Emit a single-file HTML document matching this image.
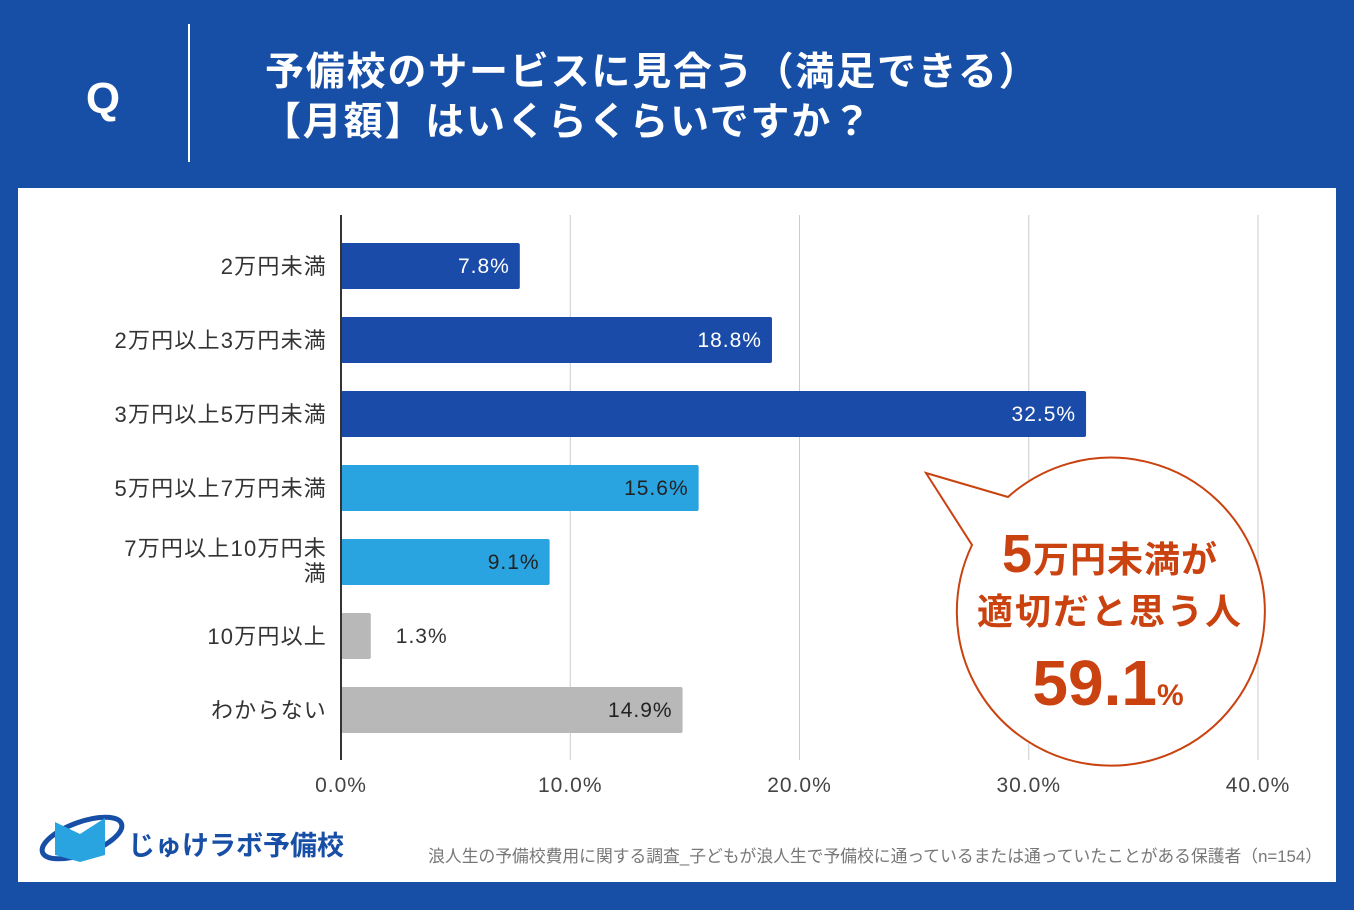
<!DOCTYPE html>
<html><head><meta charset="utf-8"><style>
body{margin:0;width:1354px;height:905px;background:#174ea6;overflow:hidden;font-family:"Liberation Sans","Noto Sans CJK JP",sans-serif}
</style></head><body>
<svg width="1354" height="905" xmlns="http://www.w3.org/2000/svg" font-family="Liberation Sans, Noto Sans CJK JP, sans-serif">
<rect width="1354" height="905" fill="#174ea6"/>
<text x="103" y="113" font-size="44" font-weight="bold" fill="#fff" text-anchor="middle">Q</text>
<rect x="188" y="24" width="2" height="138" fill="#fff"/>
<text x="265" y="85" font-size="39" font-weight="bold" fill="#fff" letter-spacing="1.8">予備校のサービスに見合う（満足できる）</text>
<text x="262" y="135" font-size="39" font-weight="bold" fill="#fff" letter-spacing="1.8">【月額】はいくらくらいですか？</text>
<rect x="18" y="188" width="1318" height="694" fill="#fff"/>
<g id="grid"></g><g id="bars"></g>
<g>
<path d="M1008,497 L926,473 L972,545 A154,154 0 1 0 1008,497 Z" fill="#fff" stroke="#c9420f" stroke-width="2"/>
<text x="1110" y="572" text-anchor="middle" fill="#c9420f" font-weight="bold" letter-spacing="1"><tspan font-size="54">5</tspan><tspan font-size="36">万円未満が</tspan></text>
<text x="1110" y="624" text-anchor="middle" fill="#c9420f" font-size="36" font-weight="bold" letter-spacing="2">適切だと思う人</text>
<text x="1108" y="705" text-anchor="middle" fill="#c9420f" font-weight="bold"><tspan font-size="64">59.1</tspan><tspan font-size="30">%</tspan></text>
</g>
<g>
<ellipse cx="82" cy="838" rx="42" ry="16" fill="none" stroke="#174ea6" stroke-width="5" transform="rotate(-20 82 838)"/>
<path d="M55,822 L80,834 L105,818 L105,855 L80,862 L55,855 Z" fill="#29a4e0"/>
<text x="128" y="855" font-size="27" font-weight="bold" fill="#174ea6">じゅけラボ予備校</text>
</g>
<text x="1322" y="862" font-size="16.8" fill="#777" text-anchor="end">浪人生の予備校費用に関する調査_子どもが浪人生で予備校に通っているまたは通っていたことがある保護者（n=154）</text>
</svg>
<script>
const categories=["2万円未満","2万円以上3万円未満","3万円以上5万円未満","5万円以上7万円未満","7万円以上10万円未満","10万円以上","わからない"];
const values=[7.8,18.8,32.5,15.6,9.1,1.3,14.9];
const colors=["#1a4ba8","#1a4ba8","#1a4ba8","#29a4e0","#29a4e0","#b8b8b8","#b8b8b8"];
const ticks=[0,10,20,30,40];
const tickLabels=["0.0%","10.0%","20.0%","30.0%","40.0%"];
const NS="http://www.w3.org/2000/svg";
const x=v=>341+v*(1258-341)/40;
const y=i=>266+i*74;
const grid=document.getElementById('grid'),bars=document.getElementById('bars');
function mk(tag,at,parent){const e=document.createElementNS(NS,tag);for(const k in at)e.setAttribute(k,at[k]);parent.appendChild(e);return e;}
ticks.forEach((t,i)=>{
 if(t>0){const l=mk('line',{x1:x(t),x2:x(t),y1:215,y2:760,stroke:'#ccc','stroke-width':1},grid);
 
 }
 const tx=mk('text',{x:x(t),y:792,'font-size':21,fill:'#444','text-anchor':'middle','letter-spacing':1},grid);tx.textContent=tickLabels[i];
 
 
});
const lab={'font-size':22,fill:'#333','text-anchor':'end','letter-spacing':1.2};
categories.forEach((c,i)=>{
 const r=mk('rect',{x:x(0),y:y(i)-23,width:x(values[i])-x(0),height:46,rx:2,fill:colors[i]},bars);
 
 
 const inside=values[i]>5;
 const vt=mk('text',{x:inside?x(values[i])-10:x(values[i])+25,y:y(i)+7,'font-size':21,'letter-spacing':1,fill:inside?(i>=3?'#222':'#fff'):'#333','text-anchor':inside?'end':'start'},bars);
 vt.textContent=values[i].toFixed(1)+'%';
 
 
 if(c==="7万円以上10万円未満"){
  const a=mk('text',Object.assign({x:327,y:y(i)-6},lab),bars);a.textContent="7万円以上10万円未";
  
  
  const b=mk('text',Object.assign({x:327,y:y(i)+19},lab),bars);b.textContent="満";
  
  
 } else {
  const lt=mk('text',Object.assign({x:327,y:y(i)+8},lab),bars);lt.textContent=c;
  
  
 }
});
const ax=mk('line',{x1:341,x2:341,y1:215,y2:760,stroke:'#333','stroke-width':2},bars);


</script>
</body></html>
